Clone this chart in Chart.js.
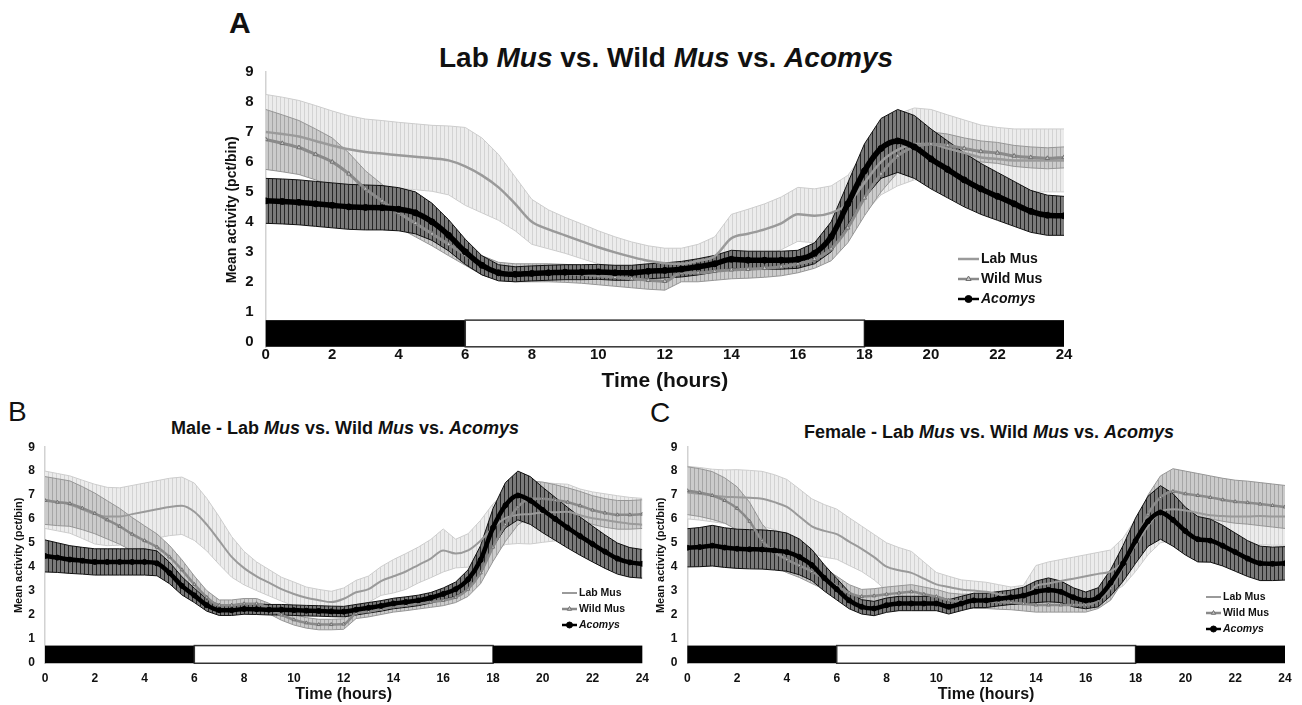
<!DOCTYPE html>
<html>
<head>
<meta charset="utf-8">
<script src="https://cdn.jsdelivr.net/npm/chart.js@4.4.0/dist/chart.umd.min.js"></script>
<style>
  body { margin: 0; background: #fff; width: 1302px; height: 705px; position: relative; overflow: hidden;
         font-family: 'Liberation Sans', Arial, sans-serif; color: #111; }
  canvas { position: absolute; }
  .txt { position: absolute; line-height: 1; white-space: nowrap; }
  .ttl { position: absolute; line-height: 1; white-space: nowrap; font-weight: bold; transform: translateX(-50%); }
</style>
</head>
<body>
<div class="txt" style="left:229px;top:8px;font-size:30px;font-weight:bold">A</div>
<div class="ttl" style="left:666px;top:44px;font-size:28px">Lab <i>Mus</i> vs. Wild <i>Mus</i> vs. <i>Acomys</i></div>
<div class="txt" style="left:8px;top:398px;font-size:28px">B</div>
<div class="ttl" style="left:345px;top:419px;font-size:18px">Male - Lab <i>Mus</i> vs. Wild <i>Mus</i> vs. <i>Acomys</i></div>
<div class="txt" style="left:650px;top:399px;font-size:28px">C</div>
<div class="ttl" style="left:989px;top:423px;font-size:18px">Female - Lab <i>Mus</i> vs. Wild <i>Mus</i> vs. <i>Acomys</i></div>

<canvas id="chartA" width="920" height="355" style="left:180px;top:40px"></canvas>
<canvas id="chartB" width="657" height="275" style="left:0px;top:430px"></canvas>
<canvas id="chartC" width="660" height="275" style="left:642px;top:430px"></canvas>

<script>
const FONT = "'Liberation Sans', Arial, sans-serif";

// time bins (hours)
const hours = [0,0.5,1,1.5,2,2.5,3,3.5,4,4.5,5,5.5,6,6.5,7,7.5,8,8.5,9,9.5,10,10.5,11,11.5,12,
  12.5,13,13.5,14,14.5,15,15.5,16,16.5,17,17.5,18,18.5,19,19.5,20,20.5,21,21.5,22,22.5,23,23.5,24];
const xTicks = [0,2,4,6,8,10,12,14,16,18,20,22,24];
const yTicks = [0,1,2,3,4,5,6,7,8,9];
const seriesNames = ['Lab Mus', 'Wild Mus', 'Acomys'];
// light/dark cycle bar
const phaseEdges = [0, 6, 18, 24];
const phaseDark = [true, false, true];

// ---- panel A: all animals ----
const labA = [7.00,6.93,6.85,6.70,6.55,6.42,6.33,6.28,6.22,6.17,6.12,6.05,5.85,5.55,5.15,4.60,4.00,3.75,3.55,3.35,3.15,2.98,2.83,2.70,2.62,
  2.60,2.70,2.85,3.45,3.60,3.75,3.95,4.25,4.20,4.30,4.60,5.30,6.00,6.40,6.60,6.60,6.45,6.30,6.15,6.10,6.05,6.05,6.05,6.05];
const labErrA = [1.25,1.23,1.20,1.18,1.15,1.12,1.10,1.10,1.10,1.10,1.10,1.15,1.30,1.25,1.10,0.90,0.75,0.65,0.60,0.58,0.55,0.52,0.50,0.50,0.50,
  0.52,0.55,0.65,0.80,0.82,0.85,0.88,0.90,0.90,0.90,0.95,1.00,1.10,1.20,1.20,1.15,1.12,1.10,1.08,1.05,1.05,1.05,1.05,1.05];
const wildA = [6.75,6.62,6.48,6.25,6.00,5.60,5.10,4.70,4.30,3.95,3.60,3.25,2.90,2.55,2.35,2.30,2.30,2.30,2.28,2.25,2.20,2.15,2.10,2.05,2.02,
  2.30,2.30,2.35,2.40,2.42,2.45,2.50,2.60,2.75,3.10,3.80,4.80,5.60,6.20,6.50,6.60,6.55,6.45,6.35,6.30,6.20,6.15,6.12,6.15];
const wildErrA = [1.00,0.95,0.90,0.85,0.80,0.70,0.60,0.55,0.50,0.45,0.40,0.38,0.35,0.32,0.30,0.30,0.30,0.30,0.30,0.30,0.30,0.30,0.30,0.30,0.30,
  0.30,0.30,0.30,0.30,0.30,0.30,0.30,0.30,0.30,0.40,0.50,0.60,0.60,0.55,0.45,0.40,0.38,0.35,0.35,0.35,0.35,0.35,0.35,0.35];
const acomysA = [4.70,4.68,4.65,4.60,4.55,4.50,4.48,4.47,4.42,4.30,4.00,3.55,3.00,2.55,2.30,2.25,2.28,2.30,2.32,2.32,2.33,2.30,2.30,2.35,2.38,
  2.42,2.50,2.60,2.75,2.72,2.72,2.72,2.75,2.95,3.50,4.60,5.70,6.45,6.70,6.50,6.10,5.75,5.40,5.10,4.85,4.60,4.35,4.22,4.20];
const acomysErrA = [0.75,0.75,0.75,0.75,0.75,0.75,0.75,0.74,0.72,0.70,0.62,0.52,0.42,0.32,0.27,0.25,0.25,0.25,0.25,0.25,0.25,0.25,0.25,0.25,0.25,
  0.26,0.27,0.28,0.30,0.30,0.30,0.30,0.30,0.35,0.50,0.70,0.90,1.00,1.05,1.05,1.00,0.95,0.90,0.85,0.80,0.75,0.70,0.67,0.65];

// ---- panel B: males ----
const labB = [6.80,6.70,6.60,6.40,6.20,6.10,6.10,6.20,6.30,6.40,6.50,6.55,6.30,5.76,5.09,4.41,3.94,3.60,3.33,3.06,2.86,2.70,2.60,2.52,2.66,
  2.93,3.06,3.40,3.60,3.80,4.07,4.34,4.68,4.55,4.68,5.09,5.63,6.03,6.17,6.20,6.27,6.28,6.30,6.15,6.03,5.95,5.87,5.80,5.76];
const labErrB = [1.20,1.20,1.20,1.22,1.25,1.22,1.20,1.20,1.20,1.20,1.20,1.20,1.20,1.10,1.00,0.85,0.70,0.60,0.55,0.50,0.50,0.45,0.45,0.45,0.45,
  0.50,0.55,0.60,0.70,0.75,0.75,0.80,0.90,0.60,0.70,0.85,1.00,1.10,1.20,1.25,1.25,1.20,1.15,1.10,1.10,1.10,1.10,1.10,1.10];
const wildB = [6.77,6.70,6.64,6.45,6.23,5.96,5.69,5.36,5.09,4.82,4.41,3.87,3.26,2.72,2.39,2.39,2.45,2.45,2.25,1.98,1.78,1.65,1.58,1.58,1.60,
  2.05,2.12,2.22,2.32,2.38,2.45,2.52,2.59,2.72,3.06,3.74,4.82,5.76,6.50,6.84,6.84,6.78,6.70,6.55,6.37,6.25,6.17,6.17,6.20];
const wildErrB = [1.00,0.98,0.95,0.90,0.85,0.80,0.75,0.70,0.62,0.55,0.48,0.42,0.35,0.28,0.22,0.22,0.22,0.22,0.22,0.22,0.22,0.22,0.22,0.22,0.22,
  0.22,0.22,0.22,0.22,0.22,0.22,0.22,0.22,0.22,0.30,0.45,0.60,0.70,0.75,0.75,0.70,0.65,0.60,0.60,0.60,0.60,0.60,0.60,0.60];
const acomysB = [4.45,4.38,4.30,4.25,4.20,4.20,4.20,4.20,4.20,4.14,3.74,3.20,2.80,2.39,2.18,2.18,2.23,2.22,2.20,2.20,2.18,2.16,2.15,2.13,2.12,
  2.20,2.28,2.36,2.46,2.52,2.59,2.70,2.86,3.06,3.47,4.28,5.63,6.57,6.98,6.77,6.37,6.00,5.63,5.28,4.95,4.63,4.34,4.18,4.12];
const acomysErrB = [0.67,0.62,0.58,0.56,0.55,0.55,0.55,0.55,0.55,0.52,0.45,0.38,0.30,0.25,0.22,0.22,0.22,0.22,0.22,0.22,0.22,0.22,0.22,0.22,0.22,
  0.22,0.22,0.22,0.22,0.22,0.22,0.22,0.25,0.30,0.40,0.60,0.80,0.95,1.02,1.00,0.95,0.90,0.85,0.80,0.75,0.70,0.65,0.62,0.60];

// ---- panel C: females ----
const labC = [7.10,7.05,6.98,6.93,6.91,6.88,6.84,6.70,6.50,6.10,5.69,5.50,5.36,5.05,4.75,4.40,4.00,3.85,3.74,3.50,3.26,3.15,3.05,3.00,2.95,
  2.85,2.75,2.72,3.20,3.30,3.40,3.50,3.60,3.70,3.80,4.20,4.90,5.70,6.30,6.40,6.35,6.25,6.15,6.12,6.10,6.10,6.12,6.10,6.10];
const labErrC = [1.10,1.10,1.10,1.12,1.15,1.15,1.15,1.15,1.15,1.15,1.15,1.10,1.05,1.00,0.95,0.95,1.00,0.95,0.90,0.70,0.50,0.45,0.40,0.40,0.40,
  0.40,0.40,0.50,0.85,0.90,0.90,0.90,0.90,0.90,0.90,1.00,1.10,1.20,1.30,1.30,1.25,1.20,1.20,1.20,1.20,1.20,1.20,1.20,1.20];
const wildC = [7.18,7.10,6.98,6.77,6.44,5.90,5.09,4.60,4.30,4.05,3.80,3.50,3.20,2.90,2.75,2.78,2.85,2.90,2.95,2.85,2.75,2.60,2.55,2.55,2.55,
  2.52,2.50,2.45,2.40,2.40,2.40,2.40,2.40,2.60,3.10,4.00,5.00,6.20,6.90,7.15,7.05,6.98,6.90,6.80,6.72,6.68,6.62,6.56,6.50];
const wildErrC = [1.00,1.00,1.00,0.95,0.90,0.80,0.70,0.60,0.55,0.50,0.50,0.45,0.40,0.35,0.30,0.30,0.30,0.30,0.30,0.30,0.30,0.30,0.30,0.30,0.30,
  0.30,0.30,0.30,0.30,0.30,0.30,0.30,0.30,0.35,0.50,0.60,0.70,0.80,0.90,0.95,0.95,0.92,0.90,0.90,0.90,0.90,0.90,0.90,0.90];
const acomysC = [4.79,4.82,4.88,4.80,4.75,4.73,4.72,4.68,4.61,4.41,4.07,3.53,3.06,2.59,2.32,2.25,2.39,2.46,2.46,2.46,2.46,2.32,2.46,2.59,2.59,
  2.66,2.72,2.79,2.95,3.03,2.95,2.72,2.59,2.72,3.33,4.14,5.09,5.90,6.27,5.96,5.49,5.15,5.09,4.88,4.61,4.34,4.14,4.12,4.14];
const acomysErrC = [0.80,0.82,0.85,0.83,0.82,0.82,0.82,0.82,0.80,0.75,0.65,0.55,0.45,0.35,0.30,0.30,0.30,0.30,0.30,0.30,0.30,0.30,0.30,0.30,0.30,
  0.30,0.30,0.35,0.45,0.50,0.45,0.40,0.35,0.40,0.55,0.75,0.95,1.05,1.12,1.10,1.00,0.95,0.90,0.85,0.80,0.75,0.72,0.70,0.70];

// striped fill that mimics dense error bars
function stripes(ctx, base, line, gap) {
  const c = document.createElement('canvas');
  c.width = gap; c.height = 4;
  const g = c.getContext('2d');
  g.fillStyle = base; g.fillRect(0, 0, gap, 4);
  g.fillStyle = line; g.fillRect(0, 0, 1, 4);
  return ctx.createPattern(c, 'repeat');
}

const cyclePlugin = {
  id: 'cycleBar',
  beforeDatasetsDraw(chart, args, opts) {
    const {ctx, scales: {x, y}} = chart;
    const top = y.getPixelForValue(opts.top), bot = y.getPixelForValue(opts.bottom);
    ctx.save();
    for (let i = 0; i < phaseDark.length; i++) {
      const x0 = x.getPixelForValue(phaseEdges[i]), x1 = x.getPixelForValue(phaseEdges[i + 1]);
      ctx.fillStyle = phaseDark[i] ? '#000' : '#fff';
      ctx.fillRect(x0, top, x1 - x0, bot - top);
      if (!phaseDark[i]) {
        ctx.strokeStyle = '#333'; ctx.lineWidth = 1.5;
        ctx.strokeRect(x0, top, x1 - x0, bot - top);
      }
    }
    ctx.restore();
  }
};

const bandPlugin = {
  id: 'bands',
  beforeDatasetsDraw(chart, args, opts) {
    const {ctx, chartArea: a, scales: {x, y}} = chart;
    ctx.save();
    ctx.beginPath(); ctx.rect(a.left, a.top, a.right - a.left, a.bottom - a.top); ctx.clip();
    chart.data.datasets.forEach(ds => {
      const pts = ds.data, e = ds.err;
      const up = pts.map((p, i) => [x.getPixelForValue(p.x), y.getPixelForValue(p.y + e[i])]);
      const lo = pts.map((p, i) => [x.getPixelForValue(p.x), y.getPixelForValue(p.y - e[i])]);
      ctx.beginPath();
      up.forEach((q, i) => i ? ctx.lineTo(q[0], q[1]) : ctx.moveTo(q[0], q[1]));
      for (let i = lo.length - 1; i >= 0; i--) ctx.lineTo(lo[i][0], lo[i][1]);
      ctx.closePath();
      ctx.fillStyle = stripes(ctx, ds.band.base, ds.band.stripe, opts.gap);
      ctx.fill();
      ctx.strokeStyle = ds.band.edge; ctx.lineWidth = 1;
      [up, lo].forEach(line => {
        ctx.beginPath();
        line.forEach((q, i) => i ? ctx.lineTo(q[0], q[1]) : ctx.moveTo(q[0], q[1]));
        ctx.stroke();
      });
    });
    ctx.restore();
  }
};

const legendPlugin = {
  id: 'innerLegend',
  afterDraw(chart, args, opts) {
    const ctx = chart.ctx;
    ctx.save();
    chart.data.datasets.forEach((ds, i) => {
      const y = opts.y + i * opts.rowH;
      ctx.strokeStyle = ds.borderColor;
      ctx.lineWidth = Math.min(ds.borderWidth, 2.5);
      ctx.beginPath(); ctx.moveTo(opts.x, y); ctx.lineTo(opts.x + opts.lineLen, y); ctx.stroke();
      if (ds.pointRadius > 0) {
        ctx.fillStyle = ds.pointBackgroundColor;
        ctx.strokeStyle = ds.pointBorderColor;
        ctx.lineWidth = ds.pointBorderWidth;
        Chart.helpers.drawPoint(ctx, {pointStyle: ds.pointStyle, radius: ds.pointRadius + 0.5, rotation: 0, borderWidth: ds.pointBorderWidth},
          opts.x + opts.lineLen / 2, y);
      }
      ctx.fillStyle = '#111';
      ctx.textBaseline = 'middle';
      ctx.font = (ds.label === 'Acomys' ? 'italic ' : '') + 'bold ' + opts.size + 'px ' + FONT;
      ctx.fillText(ds.label, opts.x + opts.lineLen + 2, y);
    });
    ctx.restore();
  }
};

function buildChart(id, lab, labErr, wild, wildErr, acomys, acomysErr, cfg) {
  const pts = arr => hours.map((h, i) => ({x: h, y: arr[i]}));
  const datasets = [
    { label: seriesNames[0], data: pts(lab), err: labErr, order: 3,
      borderColor: '#9a9a9a', borderWidth: cfg.big ? 2.5 : 2, pointRadius: 0,
      pointStyle: 'circle', pointBackgroundColor: '#9a9a9a', pointBorderColor: '#9a9a9a', pointBorderWidth: 1,
      band: {base: '#ececec', stripe: '#d3d3d3', edge: '#cdcdcd'} },
    { label: seriesNames[1], data: pts(wild), err: wildErr, order: 2,
      borderColor: '#8a8a8a', borderWidth: cfg.big ? 3 : 2.5, pointRadius: cfg.big ? 2.5 : 2,
      pointStyle: 'triangle', pointBackgroundColor: '#c4c4c4', pointBorderColor: '#707070', pointBorderWidth: 1,
      band: {base: '#cbcbcb', stripe: '#a6a6a6', edge: '#969696'} },
    { label: seriesNames[2], data: pts(acomys), err: acomysErr, order: 1,
      borderColor: '#000', borderWidth: cfg.big ? 5.5 : 4.5, pointRadius: cfg.big ? 3 : 2.5,
      pointStyle: 'circle', pointBackgroundColor: '#000', pointBorderColor: '#000', pointBorderWidth: 1,
      band: {base: '#7a7a7a', stripe: '#262626', edge: '#111111'} }
  ];
  datasets.forEach(d => { d.cubicInterpolationMode = 'monotone'; d.fill = false; });

  return new Chart(document.getElementById(id), {
    type: 'line',
    data: { datasets },
    plugins: [cyclePlugin, bandPlugin, legendPlugin],
    options: {
      responsive: false, animation: false, events: [],
      layout: { padding: cfg.pad },
      plugins: {
        legend: { display: false }, tooltip: { enabled: false },
        cycleBar: cfg.bar, bands: { gap: cfg.gap }, innerLegend: cfg.legend
      },
      scales: {
        x: {
          type: 'linear', min: 0, max: 24,
          grid: { display: false, drawTicks: false }, border: { display: false },
          afterBuildTicks: s => { s.ticks = xTicks.map(v => ({value: v})); },
          afterFit: s => { s.height = cfg.xH; },
          ticks: { padding: cfg.xTickPad, color: '#111', maxRotation: 0, autoSkip: false,
                   font: { family: FONT, size: cfg.tickSize, weight: 'bold' } },
          title: { display: true, text: 'Time (hours)', color: '#111', padding: { top: 0, bottom: 1 },
                   font: { family: FONT, size: cfg.xTitleSize, weight: 'bold' } }
        },
        y: {
          type: 'linear', min: cfg.yMin, max: 9,
          grid: { display: false, drawTicks: false }, border: { display: true, color: '#d2d2d2', width: 1.5 },
          afterBuildTicks: s => { s.ticks = yTicks.map(v => ({value: v})); },
          afterFit: s => { s.width = cfg.yW; },
          ticks: { padding: cfg.yTickPad, color: '#111',
                   font: { family: FONT, size: cfg.tickSize, weight: 'bold' } },
          title: { display: true, text: 'Mean activity (pct/bin)', color: '#111', padding: { top: 2, bottom: 0 },
                   font: { family: FONT, size: cfg.yTitleSize, weight: 'bold' } }
        }
      }
    }
  });
}

buildChart('chartA', labA, labErrA, wildA, wildErrA, acomysA, acomysErrA, {
  big: true, pad: { left: 42, right: 36, top: 32, bottom: 0 }, yW: 43.7, xH: 47.3, yMin: -0.2,
  tickSize: 15, xTitleSize: 21, yTitleSize: 14, xTickPad: -2, yTickPad: 12, gap: 4,
  bar: { top: 0.72, bottom: -0.17 },
  legend: { x: 778, y: 219, rowH: 20, lineLen: 21, size: 14 }
});
buildChart('chartB', labB, labErrB, wildB, wildErrB, acomysB, acomysErrB, {
  big: false, pad: { left: 10, right: 13, top: 10, bottom: 0 }, yW: 35, xH: 41.5, yMin: -0.05,
  tickSize: 12, xTitleSize: 16, yTitleSize: 11, xTickPad: 8, yTickPad: 10, gap: 4,
  bar: { top: 0.70, bottom: -0.04 },
  legend: { x: 562, y: 163, rowH: 16, lineLen: 15, size: 10.5 }
});
buildChart('chartC', labC, labErrC, wildC, wildErrC, acomysC, acomysErrC, {
  big: false, pad: { left: 10.3, right: 17, top: 10, bottom: 0 }, yW: 35, xH: 41.5, yMin: -0.05,
  tickSize: 12, xTitleSize: 16, yTitleSize: 11, xTickPad: 8, yTickPad: 10, gap: 4,
  bar: { top: 0.70, bottom: -0.04 },
  legend: { x: 564, y: 167, rowH: 16, lineLen: 15, size: 10.5 }
});
</script>
</body>
</html>
